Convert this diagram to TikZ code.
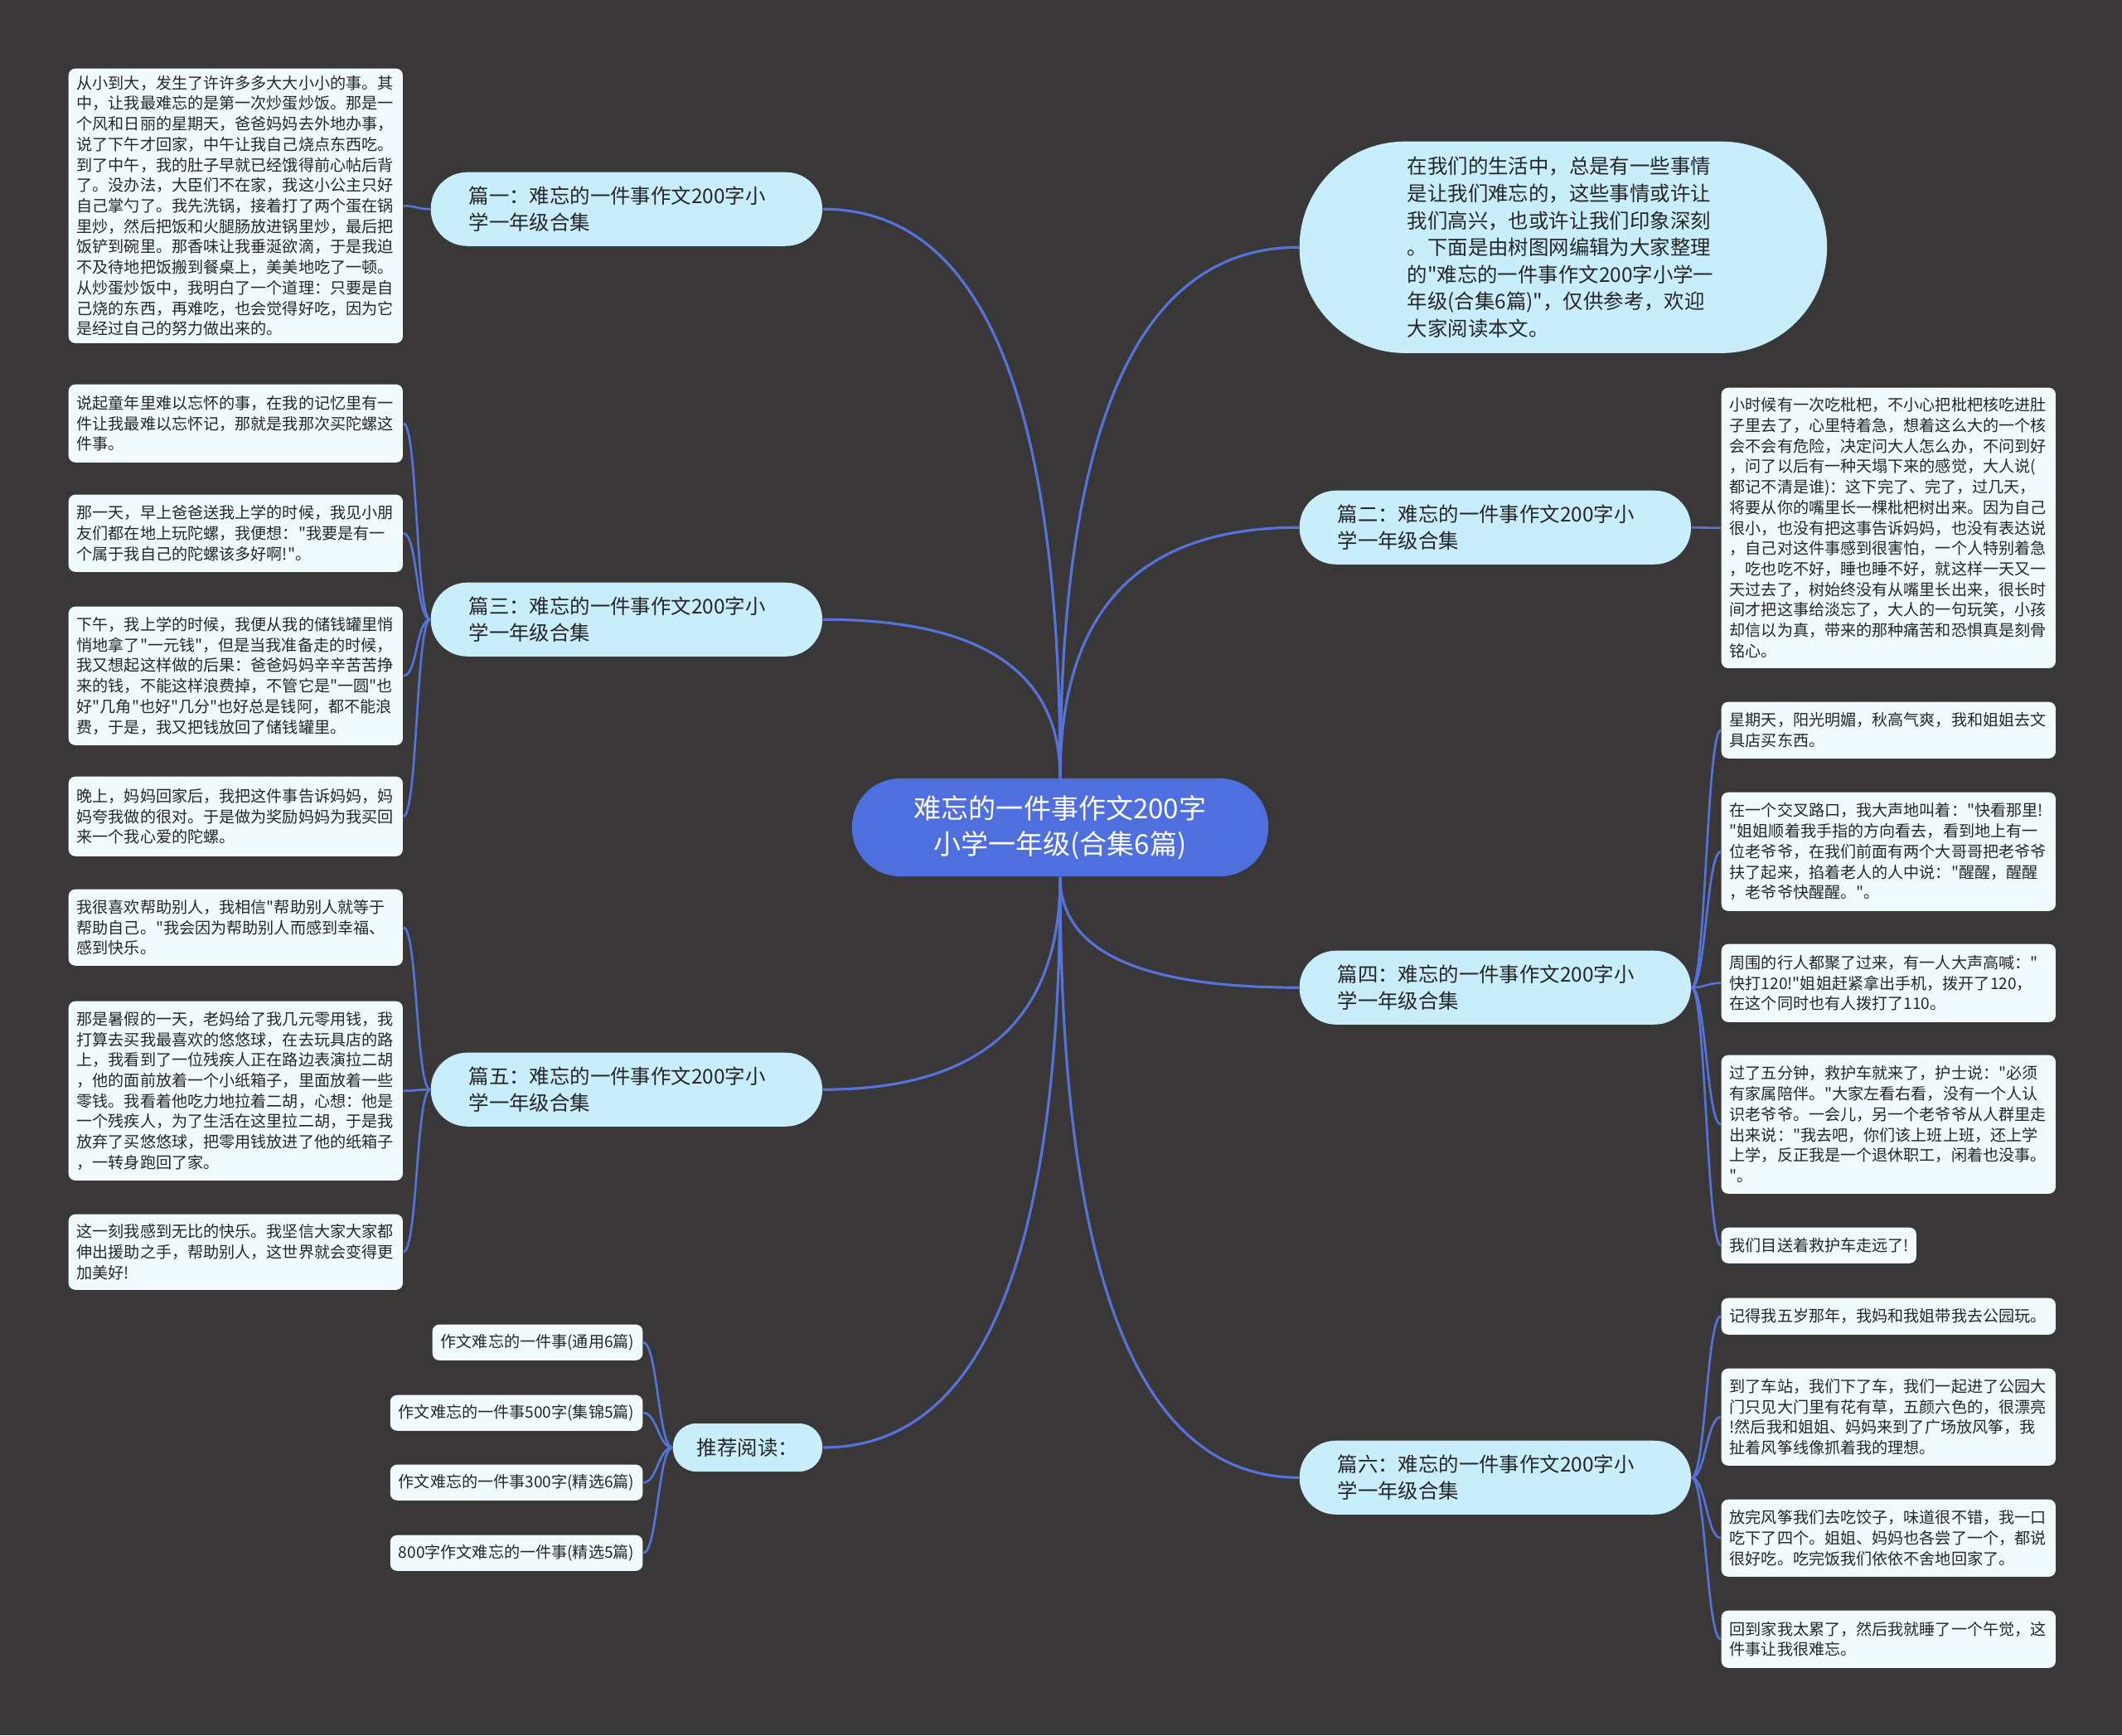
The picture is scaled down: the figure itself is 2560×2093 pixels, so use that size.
\documentclass[tikz,border=0pt]{standalone}
\usepackage{fontspec}
\setmainfont{Noto Sans CJK SC}
\newfontfamily\cjkf{Noto Sans CJK SC}
\usetikzlibrary{calc}
\definecolor{bgc}{HTML}{393738}
\definecolor{linkc}{HTML}{5673DA}
\definecolor{centerc}{HTML}{4E6FDD}
\definecolor{branchc}{HTML}{C8EEFC}
\definecolor{leafc}{HTML}{F1FBFD}
\definecolor{textc}{HTML}{262626}
\newcommand\leaffont{\cjkf\fontsize{5.43pt}{7.03pt}\selectfont}
\newcommand\branchfont{\cjkf\fontsize{6.94pt}{9.25pt}\selectfont}
\newcommand\centerfont{\cjkf\fontsize{9.39pt}{12.23pt}\selectfont}
\newcommand\mlink[2]{\draw[mainlink] (#1) .. controls ($(#1)!0.78!(#1|-#2)$) and ($(#2)!0.55!(#1|-#2)$) .. (#2);}
\newcommand\llink[2]{\draw[leaflink] (#1) to[out=180,in=0,distance=0.17cm] (#2);}
\newcommand\rlink[2]{\draw[leaflink] (#1) to[out=0,in=180,distance=0.17cm] (#2);}
\begin{document}
\begin{tikzpicture}[x=0.01cm,y=0.01cm,
  leafbox/.style={fill=leafc, rounded corners=0.08cm, inner xsep=0.1cm, inner ysep=0pt, text width=3.83cm, align=left, anchor=north west, font=\leaffont, text=textc},
  recleaf/.style={fill=leafc, rounded corners=0.08cm, inner xsep=0.1cm, inner ysep=0pt, minimum height=0.43cm, anchor=north east, font=\leaffont, text=textc},
  branchbox/.style={fill=branchc, rounded corners=0.44cm, inner xsep=0.46cm, inner ysep=0pt, text width=3.8cm, minimum height=0.89cm, align=left, anchor=north west, font=\branchfont, text=textc},
  introbox/.style={fill=branchc, rounded corners=1.27cm, inner xsep=1.3cm, inner ysep=0pt, text width=3.76cm, minimum height=2.55cm, align=left, anchor=north west, font=\branchfont, text=textc},
  centerbox/.style={fill=centerc, rounded corners=0.58cm, inner sep=0pt, minimum width=5.02cm, minimum height=1.18cm, align=center, font=\centerfont, text=white},
  recbox/.style={fill=branchc, rounded corners=0.28cm, inner sep=0pt, minimum width=1.80cm, minimum height=0.58cm, font=\branchfont, text=textc},
  mainlink/.style={draw=linkc, line width=0.9pt},
  leaflink/.style={draw=linkc, line width=0.75pt}]
\fill[bgc] (0,0) rectangle (2560,-2093);
\useasboundingbox (0,0) rectangle (2560,-2093);

% center
\node[centerbox] (c) at (1279,-998) {难忘的一件事作文200字\\小学一年级(合集6篇)};

% branches
\node[branchbox] (b1) at (519,-207) {篇一：难忘的一件事作文200字小\\学一年级合集};
\node[branchbox] (b3) at (519,-702) {篇三：难忘的一件事作文200字小\\学一年级合集};
\node[branchbox] (b5) at (519,-1269) {篇五：难忘的一件事作文200字小\\学一年级合集};
\node[branchbox] (b2) at (1567,-591) {篇二：难忘的一件事作文200字小\\学一年级合集};
\node[branchbox] (b4) at (1567,-1146) {篇四：难忘的一件事作文200字小\\学一年级合集};
\node[branchbox] (b6) at (1567,-1737) {篇六：难忘的一件事作文200字小\\学一年级合集};
\node[recbox] (rec) at (902,-1746) {推荐阅读：};
\node[introbox] (intro) at (1567,-170) {在我们的生活中，总是有一些事情\\是让我们难忘的，这些事情或许让\\我们高兴，也或许让我们印象深刻\\。下面是由树图网编辑为大家整理\\的"难忘的一件事作文200字小学一\\年级(合集6篇)"，仅供参考，欢迎\\大家阅读本文。};

% left leaves
\node[leafbox, minimum height=3.31cm] (l1) at (82,-82) {从小到大，发生了许许多多大大小小的事。其\\中，让我最难忘的是第一次炒蛋炒饭。那是一\\个风和日丽的星期天，爸爸妈妈去外地办事，\\说了下午才回家，中午让我自己烧点东西吃。\\到了中午，我的肚子早就已经饿得前心帖后背\\了。没办法，大臣们不在家，我这小公主只好\\自己掌勺了。我先洗锅，接着打了两个蛋在锅\\里炒，然后把饭和火腿肠放进锅里炒，最后把\\饭铲到碗里。那香味让我垂涎欲滴，于是我迫\\不及待地把饭搬到餐桌上，美美地吃了一顿。\\从炒蛋炒饭中，我明白了一个道理：只要是自\\己烧的东西，再难吃，也会觉得好吃，因为它\\是经过自己的努力做出来的。};
\node[leafbox, minimum height=0.94cm] (l3a) at (82,-463) {说起童年里难以忘怀的事，在我的记忆里有一\\件让我最难以忘怀记，那就是我那次买陀螺这\\件事。};
\node[leafbox, minimum height=0.93cm] (l3b) at (82,-596) {那一天，早上爸爸送我上学的时候，我见小朋\\友们都在地上玩陀螺，我便想："我要是有一\\个属于我自己的陀螺该多好啊!"。};
\node[leafbox, minimum height=1.67cm] (l3c) at (82,-731) {下午，我上学的时候，我便从我的储钱罐里悄\\悄地拿了"一元钱"，但是当我准备走的时候，\\我又想起这样做的后果：爸爸妈妈辛辛苦苦挣\\来的钱，不能这样浪费掉，不管它是"一圆"也\\好"几角"也好"几分"也好总是钱阿，都不能浪\\费，于是，我又把钱放回了储钱罐里。};
\node[leafbox, minimum height=0.96cm] (l3d) at (82,-936) {晚上，妈妈回家后，我把这件事告诉妈妈，妈\\妈夸我做的很对。于是做为奖励妈妈为我买回\\来一个我心爱的陀螺。};
\node[leafbox, minimum height=0.92cm] (l5a) at (82,-1072) {我很喜欢帮助别人，我相信"帮助别人就等于\\帮助自己。"我会因为帮助别人而感到幸福、\\感到快乐。};
\node[leafbox, minimum height=2.16cm] (l5b) at (82,-1207) {那是暑假的一天，老妈给了我几元零用钱，我\\打算去买我最喜欢的悠悠球，在去玩具店的路\\上，我看到了一位残疾人正在路边表演拉二胡\\，他的面前放着一个小纸箱子，里面放着一些\\零钱。我看着他吃力地拉着二胡，心想：他是\\一个残疾人，为了生活在这里拉二胡，于是我\\放弃了买悠悠球，把零用钱放进了他的纸箱子\\，一转身跑回了家。};
\node[leafbox, minimum height=0.91cm] (l5c) at (82,-1464) {这一刻我感到无比的快乐。我坚信大家大家都\\伸出援助之手，帮助别人，这世界就会变得更\\加美好!};

% recommended leaves
\node[recleaf] (r1) at (776,-1597) {作文难忘的一件事(通用6篇)};
\node[recleaf] (r2) at (776,-1682) {作文难忘的一件事500字(集锦5篇)};
\node[recleaf] (r3) at (776,-1766) {作文难忘的一件事300字(精选6篇)};
\node[recleaf] (r4) at (776,-1851) {800字作文难忘的一件事(精选5篇)};

% right leaves
\node[leafbox, minimum height=3.38cm] (q2) at (2076,-467) {小时候有一次吃枇杷，不小心把枇杷核吃进肚\\子里去了，心里特着急，想着这么大的一个核\\会不会有危险，决定问大人怎么办，不问到好\\，问了以后有一种天塌下来的感觉，大人说(\\都记不清是谁)：这下完了、完了，过几天，\\将要从你的嘴里长一棵枇杷树出来。因为自己\\很小，也没有把这事告诉妈妈，也没有表达说\\，自己对这件事感到很害怕，一个人特别着急\\，吃也吃不好，睡也睡不好，就这样一天又一\\天过去了，树始终没有从嘴里长出来，很长时\\间才把这事给淡忘了，大人的一句玩笑，小孩\\却信以为真，带来的那种痛苦和恐惧真是刻骨\\铭心。};
\node[leafbox, minimum height=0.68cm] (q4a) at (2076,-846) {星期天，阳光明媚，秋高气爽，我和姐姐去文\\具店买东西。};
\node[leafbox, minimum height=1.43cm] (q4b) at (2076,-955) {在一个交叉路口，我大声地叫着："快看那里!\\"姐姐顺着我手指的方向看去，看到地上有一\\位老爷爷，在我们前面有两个大哥哥把老爷爷\\扶了起来，掐着老人的人中说："醒醒，醒醒\\，老爷爷快醒醒。"。};
\node[leafbox, minimum height=0.94cm] (q4c) at (2076,-1138) {周围的行人都聚了过来，有一人大声高喊："\\快打120!"姐姐赶紧拿出手机，拨开了120，\\在这个同时也有人拨打了110。};
\node[leafbox, minimum height=1.67cm] (q4d) at (2076,-1272) {过了五分钟，救护车就来了，护士说："必须\\有家属陪伴。"大家左看右看，没有一个人认\\识老爷爷。一会儿，另一个老爷爷从人群里走\\出来说："我去吧，你们该上班上班，还上学\\上学，反正我是一个退休职工，闲着也没事。\\"。};
\node[leafbox, minimum height=0.43cm, text width=2.15cm] (q4e) at (2076,-1480) {我们目送着救护车走远了!};
\node[leafbox, minimum height=0.44cm] (q6a) at (2076,-1565) {记得我五岁那年，我妈和我姐带我去公园玩。};
\node[leafbox, minimum height=1.17cm] (q6b) at (2076,-1650) {到了车站，我们下了车，我们一起进了公园大\\门只见大门里有花有草，五颜六色的，很漂亮\\!然后我和姐姐、妈妈来到了广场放风筝，我\\扯着风筝线像抓着我的理想。};
\node[leafbox, minimum height=0.93cm] (q6c) at (2076,-1808) {放完风筝我们去吃饺子，味道很不错，我一口\\吃下了四个。姐姐、妈妈也各尝了一个，都说\\很好吃。吃完饭我们依依不舍地回家了。};
\node[leafbox, minimum height=0.69cm] (q6d) at (2076,-1942) {回到家我太累了，然后我就睡了一个午觉，这\\件事让我很难忘。};

% main links
\mlink{c.north}{b1.east}
\mlink{c.north}{b3.east}
\mlink{c.south}{b5.east}
\mlink{c.south}{rec.east}
\mlink{c.north}{intro.west}
\mlink{c.north}{b2.west}
\mlink{c.south}{b4.west}
\mlink{c.south}{b6.west}

% leaf links
\llink{b1.west}{l1.east}
\llink{b3.west}{l3a.east}
\llink{b3.west}{l3b.east}
\llink{b3.west}{l3c.east}
\llink{b3.west}{l3d.east}
\llink{b5.west}{l5a.east}
\llink{b5.west}{l5b.east}
\llink{b5.west}{l5c.east}
\llink{rec.west}{r1.east}
\llink{rec.west}{r2.east}
\llink{rec.west}{r3.east}
\llink{rec.west}{r4.east}
\rlink{b2.east}{q2.west}
\rlink{b4.east}{q4a.west}
\rlink{b4.east}{q4b.west}
\rlink{b4.east}{q4c.west}
\rlink{b4.east}{q4d.west}
\rlink{b4.east}{q4e.west}
\rlink{b6.east}{q6a.west}
\rlink{b6.east}{q6b.west}
\rlink{b6.east}{q6c.west}
\rlink{b6.east}{q6d.west}
\end{tikzpicture}
\end{document}
